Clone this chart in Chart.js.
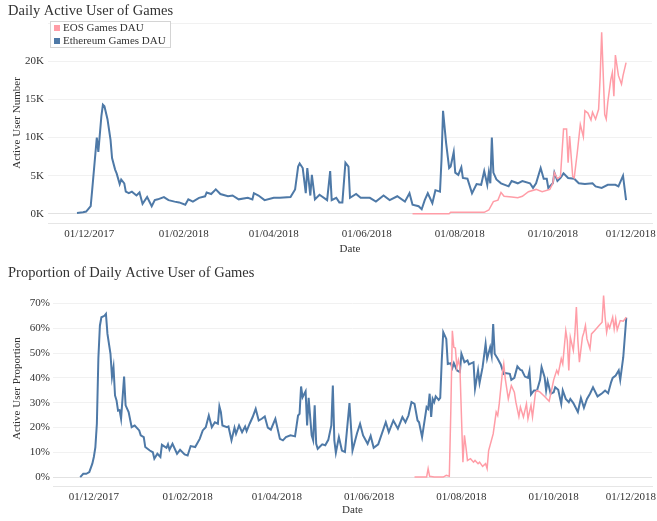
<!DOCTYPE html>
<html>
<head>
<meta charset="utf-8">
<script src="https://cdn.jsdelivr.net/npm/chart.js@4.4.1/dist/chart.umd.min.js"></script>
<style>
  html, body { margin: 0; padding: 0; background: #fff; }
  #wrap { position: relative; width: 657px; height: 521px; }
  canvas { position: absolute; left: 0; }
  #dauChart { top: 0; }
  #shareChart { top: 260px; }
</style>
</head>
<body>
<div id="wrap">
  <canvas id="dauChart" width="657" height="260"></canvas>
  <canvas id="shareChart" width="657" height="261"></canvas>
</div>
<script>
// x values are days counted from 01/12/2017
const dateTicks = ['01/12/2017', '01/02/2018', '01/04/2018', '01/06/2018', '01/08/2018', '01/10/2018', '01/12/2018'];

const ethDauDays = [-8,-4,-2,1,2,5,6,8,9,10,12,14,15,17,18,20,21,23,24,26,28,31,33,35,38,41,43,45,49,52,56,59,63,65,68,72,76,77,80,83,86,91,94,98,104,107,108,111,115,121,125,132,135,137,138,140,142,143,145,146,148,151,156,158,159,162,164,166,168,170,171,175,178,184,188,193,197,202,207,210,212,216,218,220,222,225,227,230,231,232,234,236,237,239,240,242,244,245,248,251,254,257,259,261,262,263,264,265,267,270,275,277,281,284,289,291,293,296,298,300,301,304,305,307,309,311,314,318,321,325,330,332,336,340,345,347,350,352];
const ethDau = [100,200,300,1000,3200,10000,8100,12800,14300,14100,12400,9700,7300,5800,5300,3900,4500,4000,2900,2700,2900,2400,2800,1300,2200,1000,1800,1900,2200,1800,1600,1500,1200,1900,1600,2100,2300,2800,2600,3200,2600,2300,2400,1900,2100,1900,2700,2400,1800,2100,2100,2200,3200,6200,6600,6000,2700,6000,2400,5100,1900,2500,1800,5600,1800,2100,1500,1500,6700,6200,2100,2600,2100,2100,1600,2400,1800,2300,1600,2700,1200,1000,600,1800,2700,1400,3100,2900,7100,13500,9300,6000,6200,8100,5400,5100,6100,4700,4600,2700,3900,3800,5600,3800,5400,4000,10000,5400,4500,4000,3600,4300,4000,4300,4000,3400,4000,6000,4600,4600,3400,4000,5400,4300,4700,5300,4700,4600,4000,3900,4000,3600,3400,3800,3800,3600,5000,1800];

const eosDauDays = [212,236,237,259,262,265,268,270,272,277,281,284,288,293,297,302,304,305,307,309,311,313,314,315,317,318,320,322,324,325,327,329,330,332,334,335,336,338,339,340,342,343,344,345,347,349,350,352];
const eosDau = [0,0,200,200,500,1600,1800,2800,2300,2200,2100,2300,2900,3200,2900,3200,4000,5400,4600,4900,11100,11100,6700,10200,4900,4700,8000,11700,10100,13500,13200,12300,13300,12400,13700,17900,23800,13000,12400,14600,17600,18500,15400,20800,18100,17000,18100,19800];

const ethShareDays = [-9,-7,-5,-3,-1,0,1,2,3,4,5,7,8,9,11,12,13,14,15,16,17,18,20,21,23,25,27,30,31,33,34,37,39,40,42,44,45,48,49,50,52,55,57,60,62,64,67,70,72,74,76,78,80,82,83,84,85,88,89,91,93,94,96,98,100,101,103,105,107,109,111,113,115,117,120,123,125,127,130,133,135,136,137,138,140,141,142,144,145,146,147,148,151,153,155,157,158,159,160,162,164,166,169,171,174,176,178,181,183,185,188,193,195,198,201,204,206,208,210,212,214,215,217,218,220,221,222,223,224,225,226,228,229,230,231,233,234,236,237,238,240,242,243,245,247,248,251,252,254,255,257,259,260,262,263,264,265,267,269,271,272,275,276,278,280,282,283,285,287,288,289,291,293,295,296,298,299,300,302,304,305,307,309,310,312,314,315,317,320,322,324,326,328,330,333,336,338,340,342,343,345,347,348,350,352];
const ethShare = [0,1.3,1.3,2.0,5.4,8.1,12,21.5,48,61,64.4,65,65.8,57.7,49.7,40.3,44.3,32.9,30.9,26.8,27,23.5,40.5,28.9,26.2,20.1,20.8,18.8,16.8,16.1,12.1,10.7,10,7.4,9.4,8.1,13,11.8,13.2,11,13.4,9.4,11,9.1,8.7,12.5,12.1,15.4,18.8,20.1,24.8,20.1,22.1,21.5,28.5,26.2,20.8,20.1,20.4,14.8,19.9,17.4,20.8,18.1,20.4,18.5,21.5,24.2,27.5,22.8,23.5,24.4,19.9,19.1,23.5,15.4,14.8,16.1,16.8,16.4,24.8,25.5,36.5,32.2,34.6,20.8,31.9,16.8,14.8,28.9,13.4,11.4,13.2,12.8,15,20.8,36.9,14.8,9.8,16.1,10.7,10.1,29.8,10.7,17.7,21.5,16.8,13.4,16.6,11.8,13.2,22.1,18.1,22.8,19.5,24.2,22.1,24.8,30.2,29.5,22.8,22.1,16.1,20.1,28.2,27.5,33.6,24.2,31.5,30.2,32.5,31.1,31.9,47,58.4,55.7,45.6,45.9,44,45.9,43,42.3,49.7,46.3,47,45.4,46.3,35.6,43,37.9,44.3,53.7,47.7,52.3,49,61.7,49.7,47.7,45.4,41.6,41.9,41.6,39.2,40,44.6,43.2,43,40.5,40,42.7,33.3,34.9,34.9,39.2,44.3,40.3,34.9,38.7,33.6,34.2,36.2,35.2,29.5,34.9,31.5,30.2,31.5,29.8,26.2,31.9,27.9,31.5,33.6,36.2,32.5,33.8,34.9,33.8,38.3,40,40.9,43,39.2,48.3,64.2];

const eosShareDays = [212,220,221,222,225,231,233,235,236,237,238,239,240,241,242,244,245,246,247,249,251,252,254,255,257,259,260,261,264,266,267,268,270,271,272,274,276,278,279,281,282,284,286,287,289,290,292,293,295,298,301,303,304,306,307,309,310,312,313,314,315,317,318,319,320,321,323,324,325,326,328,329,331,334,336,337,338,339,340,341,343,344,345,346,348,350,352];
const eosShare = [0,0,3.4,0.3,0,0,0.7,0.3,26.8,59,52.3,52,44.3,47.2,44.3,6,16.8,12.1,6.7,7.4,6,6.7,5.4,6,4.3,5.4,3.4,10.7,17.4,26.2,24.8,29.5,41.6,45.6,39.6,31.5,36.9,34.2,30.2,24.4,28.2,24.2,29.5,23.5,28.9,24.2,34.2,34.9,34.2,32.5,30.6,36.2,39.2,43,41.6,47.7,45.6,59,55,43,56.4,51,57.7,68.5,55,46.3,56.4,58.4,61.1,55.7,51.7,57.7,59,61.1,62.4,73.2,64.4,58.4,61.7,60.1,64.4,59.7,63.8,59.3,63.1,62.8,64.4];

const BLUE = '#4e79a7';
const PINK = '#ff9da7';
const TEXT = '#333333';
const FONT = "'Liberation Serif', 'Times New Roman', serif";

const DAY0 = Date.UTC(2017, 11, 1);
const toDay = (s) => {
  const [d, m, y] = s.split('/').map(Number);
  return Math.round((Date.UTC(y, m - 1, d) - DAY0) / 864e5);
};
const tickDays = dateTicks.map(toDay);
const X_MIN = -27, X_MAX = 369;

const points = (days, vals) => days.map((d, i) => ({ x: d, y: vals[i] }));

// bordered legend drawn in the top-left corner of the plot
const boxLegend = {
  id: 'boxLegend',
  afterDatasetsDraw(chart, args, opts) {
    if (!opts.display) return;
    const ctx = chart.ctx;
    const { left, top } = chart.chartArea;
    const x = left + 2, y = top - 2, w = 120, h = 26;
    ctx.save();
    ctx.fillStyle = '#fff';
    ctx.fillRect(x, y, w, h);
    ctx.strokeStyle = '#d4d4d4';
    ctx.lineWidth = 1;
    ctx.strokeRect(x + 0.5, y + 0.5, w, h);
    ctx.font = '11px ' + FONT;
    ctx.textBaseline = 'middle';
    chart.data.datasets.forEach((ds, i) => {
      const cy = y + 7 + i * 13;
      ctx.fillStyle = ds.borderColor;
      ctx.fillRect(x + 4, cy - 3, 6, 6);
      ctx.fillStyle = TEXT;
      ctx.fillText(ds.label, x + 13, cy);
    });
    ctx.restore();
  }
};

function xLabel(v) {
  const i = tickDays.indexOf(v);
  if (i < 0) return '';
  // keep the last date inside the canvas like the original
  return i === tickDays.length - 1 ? dateTicks[i] + '\u00a0'.repeat(11) : dateTicks[i];
}

function makeChart(id, cfg) {
  return new Chart(document.getElementById(id), {
    type: 'line',
    data: {
      datasets: [
        { label: cfg.labels[0], data: cfg.eos, borderColor: PINK, backgroundColor: PINK, borderWidth: 1.5 },
        { label: cfg.labels[1], data: cfg.eth, borderColor: BLUE, backgroundColor: BLUE, borderWidth: 2 }
      ]
    },
    options: {
      responsive: false,
      animation: false,
      devicePixelRatio: 1,
      elements: { point: { radius: 0 }, line: { tension: 0 } },
      layout: { padding: { left: 8, right: 0, top: 0, bottom: 0 } },
      plugins: {
        legend: { display: false },
        tooltip: { enabled: false },
        title: {
          display: true,
          text: cfg.title,
          align: 'start',
          color: TEXT,
          font: { family: FONT, size: 14.5, weight: 'normal' },
          padding: cfg.titlePad
        },
        boxLegend: { display: cfg.legend }
      },
      scales: {
        x: {
          type: 'linear',
          min: X_MIN,
          max: X_MAX,
          afterBuildTicks: (s) => { s.ticks = tickDays.map(v => ({ value: v })).concat([{ value: X_MAX }]); },
          afterFit: (s) => { s.height = cfg.xHeight; },
          grid: { display: false, drawTicks: false },
          border: { display: true, color: '#e6e6e6' },
          ticks: {
            autoSkip: false, maxRotation: 0, minRotation: 0, padding: 5,
            color: TEXT, font: { family: FONT, size: 11 },
            callback: (v) => xLabel(v)
          },
          title: {
            display: true, text: 'Date', color: TEXT,
            font: { family: FONT, size: 11 }, padding: { top: 0, bottom: 4.5 }
          }
        },
        y: {
          min: cfg.yMin,
          max: cfg.yMax,
          afterBuildTicks: (s) => { s.ticks = cfg.yTicks.map(v => ({ value: v })); },
          afterFit: (s) => { s.width = cfg.yWidth; },
          grid: {
            drawTicks: false,
            color: (c) => c.tick && c.tick.value === 0 ? '#e2e2e2' : '#f1f1f1'
          },
          border: { display: false },
          ticks: {
            padding: cfg.yPad, color: TEXT, font: { family: FONT, size: 11 },
            callback: cfg.yFormat
          },
          title: {
            display: true, text: cfg.yTitle, color: TEXT,
            font: { family: FONT, size: 11 }, padding: { top: 2.4, bottom: 0 }
          }
        }
      }
    },
    plugins: [boxLegend]
  });
}

makeChart('dauChart', {
  title: 'Daily Active User of Games',
  labels: ['EOS Games DAU', 'Ethereum Games DAU'],
  eos: points(eosDauDays, eosDau),
  eth: points(ethDauDays, ethDau),
  legend: true,
  titlePad: { top: 2.3, bottom: 3.3 },
  xHeight: 37,
  yMin: -1200, yMax: 25000,
  yTicks: [0, 5000, 10000, 15000, 20000, 25000],
  yFormat: (v) => v === 25000 ? '' : (v / 1000) + 'K',
  yWidth: 40, yPad: 4,
  yTitle: 'Active User Number'
});

makeChart('shareChart', {
  title: 'Proportion of Daily Active User of Games',
  labels: ['EOS Games Proportion', 'Ethereum Games Proportion'],
  eos: points(eosShareDays, eosShare),
  eth: points(ethShareDays, ethShare),
  legend: false,
  titlePad: { top: 4.3, bottom: 9.3 },
  xHeight: 35,
  yMin: -3.6, yMax: 75,
  yTicks: [0, 10, 20, 30, 40, 50, 60, 70],
  yFormat: (v) => v + '%',
  yWidth: 45, yPad: 3,
  yTitle: 'Active User Proportion'
});
</script>
</body>
</html>
